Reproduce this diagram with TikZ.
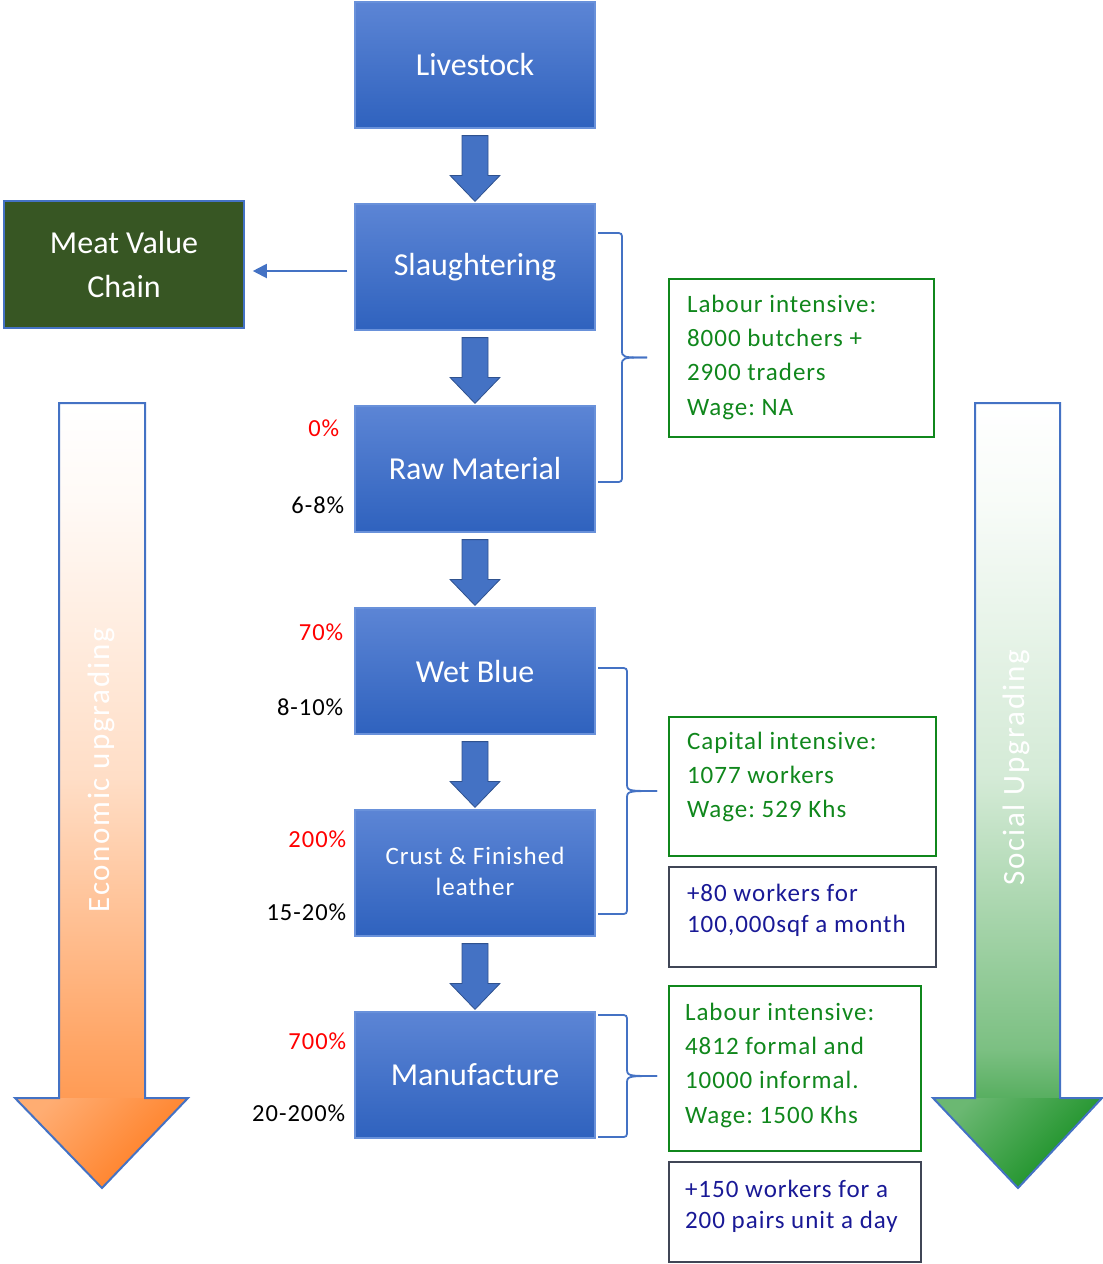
\documentclass[tikz,border=0pt]{standalone}
\usepackage{fontspec}
\setmainfont{Carlito}
\newfontfamily\spaced{Carlito}[LetterSpace=4]
\newfontfamily\spacedwide{Carlito}[LetterSpace=6]
\usetikzlibrary{calc,arrows.meta}
\frenchspacing

\definecolor{boxtop}{RGB}{92,133,213}
\definecolor{boxbot}{RGB}{47,98,190}
\definecolor{boxline}{RGB}{105,145,218}
\definecolor{flowblue}{RGB}{68,114,196}
\definecolor{flowdark}{RGB}{47,82,143}
\definecolor{meatgreen}{RGB}{55,86,35}
\definecolor{infogreen}{RGB}{16,135,28}
\definecolor{infonavy}{RGB}{25,25,150}
\definecolor{infogray}{RGB}{64,70,86}
\definecolor{pctred}{RGB}{255,0,0}
\definecolor{econorange}{RGB}{255,122,28}
\definecolor{socgreen}{RGB}{16,140,28}

% shaft shadings: pale at the top, deepening towards the head
\colorlet{eoA}{econorange!75!white}
\colorlet{eoB}{econorange!68!white}
\colorlet{eoC}{econorange!25!white}
\colorlet{eoD}{econorange!4!white}
\colorlet{sgA}{socgreen!70!white}
\colorlet{sgB}{socgreen!55!white}
\colorlet{sgC}{socgreen!18!white}
\colorlet{sgD}{socgreen!3!white}
\pgfdeclareverticalshading{econshaft}{100bp}{color(0bp)=(eoA); color(25bp)=(eoA); color(28.5bp)=(eoB); color(48bp)=(eoC); color(68bp)=(eoD); color(75bp)=(white); color(100bp)=(white)}
\pgfdeclareverticalshading{socshaft}{100bp}{color(0bp)=(sgA); color(25bp)=(sgA); color(28.5bp)=(sgB); color(48bp)=(sgC); color(68bp)=(sgD); color(75bp)=(white); color(100bp)=(white)}

% thick block arrow from the bottom of one stage to the top of the next
\newcommand\stepdown[2]{%
  \draw[blk] ($(#1.south)+(-13,7)$) -- ($(#2.north)+(-13,-28)$) -- ($(#2.north)+(-25,-28)$)
    -- ($(#2.north)+(0,-2)$) -- ($(#2.north)+(25,-28)$) -- ($(#2.north)+(13,-28)$)
    -- ($(#1.south)+(13,7)$) -- cycle;}

% right-hand curly bracket: left end x, spine x, top y, bottom y, tip x
\newcommand\curly[5]{%
  \pgfmathsetmacro\cmid{(#3+#4)/2}%
  \draw[brk] (#1,#3) -- ({#2-7},#3) .. controls (#2,#3) .. (#2,{#3+7}) -- (#2,{\cmid-8})
    .. controls (#2,\cmid) .. (#5,\cmid);
  \draw[brk] (#1,#4) -- ({#2-7},#4) .. controls (#2,#4) .. (#2,{#4-7}) -- (#2,{\cmid+8})
    .. controls (#2,\cmid) .. (#5,\cmid);}

\begin{document}
\begin{tikzpicture}[x=1pt,y=-1pt,
  stage/.style={rectangle, draw=boxline, line width=1.2pt, top color=boxtop, bottom color=boxbot,
    minimum width=240pt, minimum height=126pt, inner sep=0pt, text=white,
    font=\fontsize{32}{38}\selectfont, align=center},
  blk/.style={fill=flowblue, draw=flowdark, line width=0.8pt, line join=miter},
  brk/.style={draw=flowblue, line width=1.8pt},
  pct/.style={anchor=east, inner sep=0pt, font=\spaced\fontsize{24.5}{28}\selectfont},
  gbox/.style={rectangle, draw=infogreen, line width=2.4pt, inner sep=0pt},
  nbox/.style={rectangle, draw=infogray, line width=2.4pt, inner sep=0pt},
  gtxt/.style={anchor=north west, inner sep=0pt, align=left, text=infogreen,
    font=\spaced\fontsize{25}{34.3}\selectfont},
  ntxt/.style={anchor=north west, inner sep=0pt, align=left, text=infonavy,
    font=\spaced\fontsize{25}{31.5}\selectfont},
  bigline/.style={draw=flowblue, line width=2pt, line join=miter},
  vlabel/.style={rotate=90, text=white, font=\spacedwide\fontsize{31}{34}\selectfont}]

\useasboundingbox (0,0) rectangle (1103,1264);

% ---- economic upgrading arrow (left) ----
\shade[shading=econshaft] (59,403) rectangle (145,1098);
\shade[top color=econorange!62!white, bottom color=econorange, shading angle=45]
  (15,1098) -- (188,1098) -- (102,1188) -- cycle;
\draw[bigline] (59,403) -- (145,403) -- (145,1098) -- (188,1098) -- (102,1188)
  -- (15,1098) -- (59,1098) -- cycle;
\node[vlabel] (econ) at (101,770) {Economic upgrading};

% ---- social upgrading arrow (right) ----
\shade[shading=socshaft] (975,403) rectangle (1060,1098);
\shade[top color=socgreen!62!white, bottom color=socgreen, shading angle=45]
  (933,1098) -- (1102,1098) -- (1018,1188) -- cycle;
\draw[bigline] (975,403) -- (1060,403) -- (1060,1098) -- (1102,1098) -- (1018,1188)
  -- (933,1098) -- (975,1098) -- cycle;
\node[vlabel] (soc) at (1016,768) {Social Upgrading};

% ---- value chain stages ----
\node[stage] (live)  at (475,65)   {Livestock};
\node[stage] (slau)  at (475,267)  {Slaughtering};
\node[stage] (raw)   at (475,469)  {Raw Material};
\node[stage] (wet)   at (475,671)  {Wet Blue};
\node[stage, font=\spaced\fontsize{25}{31}\selectfont] (crust) at (475,873) {Crust \& Finished\\leather\vphantom{g}};
\node[stage] (manu)  at (475,1075) {Manufacture};

\stepdown{live}{slau}
\stepdown{slau}{raw}
\stepdown{raw}{wet}
\stepdown{wet}{crust}
\stepdown{crust}{manu}

% ---- meat side branch ----
\node[rectangle, fill=meatgreen, draw=flowblue, line width=1.6pt, minimum width=240pt,
  minimum height=127pt, inner sep=0pt, text=white, align=center,
  font=\fontsize{32}{44}\selectfont] (meat) at (124,264.5) {Meat Value\\Chain};
\draw[flowblue, line width=2pt, -{Triangle[length=14pt,width=14pt]}]
  ($(slau.west)+(-7,4)$) -- ($(meat.east)+(8,6.5)$);

% ---- margins ----
\node[pct, text=pctred] (p0)   at ($(raw.west)+(-15,-41)$)   {0\%};
\node[pct]              (p68)  at ($(raw.west)+(-10,36)$)    {6-8\%};
\node[pct, text=pctred] (p70)  at ($(wet.west)+(-11,-39)$)   {70\%};
\node[pct]              (p810) at ($(wet.west)+(-11,36)$)    {8-10\%};
\node[pct, text=pctred] (p200) at ($(crust.west)+(-8,-34)$)  {200\%};
\node[pct]              (p1520) at ($(crust.west)+(-8,39)$)  {15-20\%};
\node[pct, text=pctred] (p700) at ($(manu.west)+(-8,-34)$)   {700\%};
\node[pct]              (p20200) at ($(manu.west)+(-9,38)$)  {20-200\%};

% ---- brackets ----
\curly{598}{622}{233}{482}{647}
\curly{598}{627}{668}{914}{657}
\curly{598}{627}{1015}{1137}{657}

% ---- employment boxes ----
\node[gbox, minimum width=265pt, minimum height=158pt] (lab1) at (801.5,358) {};
\node[gtxt] (lab1t) at ($(lab1.north west)+(19,17)$)
  {Labour intensive:\\8000 butchers +\\2900 traders\\Wage: NA};

\node[gbox, minimum width=267pt, minimum height=139pt] (cap) at (802.5,786.5) {};
\node[gtxt] (capt) at ($(cap.north west)+(19,16)$)
  {Capital intensive:\\1077 workers\\Wage: 529 Khs};

\node[nbox, minimum width=267pt, minimum height=100pt] (add1) at (802.5,917) {};
\node[ntxt] (add1t) at ($(add1.north west)+(19,18)$)
  {+80 workers for\\100,000sqf a month};

\node[gbox, minimum width=252pt, minimum height=165pt] (lab2) at (795,1068.5) {};
\node[gtxt] (lab2t) at ($(lab2.north west)+(17,18)$)
  {Labour intensive:\\4812 formal and\\10000 informal.\\Wage: 1500 Khs};

\node[nbox, minimum width=252pt, minimum height=100pt] (add2) at (795,1212) {};
\node[ntxt] (add2t) at ($(add2.north west)+(17,19)$)
  {+150 workers for a\\200 pairs unit a day};

\end{tikzpicture}
\end{document}
